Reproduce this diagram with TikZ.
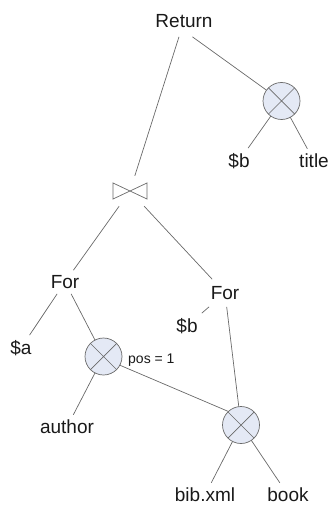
\documentclass[tikz,border=0pt]{standalone}
\usepackage{fontspec}
\setmainfont{Liberation Sans}
\definecolor{edgegray}{RGB}{105,105,105}
\definecolor{opfill}{RGB}{228,233,245}
\tikzset{
  conn/.style={draw=edgegray, line width=0.7pt},
  lbl/.style={inner sep=5pt, text=black!90, font=\fontsize{19}{22}\selectfont},
  poslbl/.style={inner sep=1pt, text=black!90, font=\fontsize{14}{16}\selectfont},
  selop/.style={circle, draw=edgegray, line width=0.7pt, fill=opfill, minimum size=37pt,
    inner sep=0pt, outer sep=0pt,
    path picture={\draw[edgegray, line width=0.7pt]
      (path picture bounding box.north west) -- (path picture bounding box.south east)
      (path picture bounding box.north east) -- (path picture bounding box.south west);}},
  joinop/.style={minimum width=48pt, minimum height=30pt, inner sep=0pt,
    path picture={\draw[edgegray, line width=0.7pt]
      ([shift={(7pt,-7pt)}]path picture bounding box.north west)
      -- ([shift={(-7pt,7pt)}]path picture bounding box.south east)
      -- ([shift={(-7pt,-7pt)}]path picture bounding box.north east)
      -- ([shift={(7pt,7pt)}]path picture bounding box.south west) -- cycle;}},
}
\begin{document}
\begin{tikzpicture}[x=1pt,y=-1pt]
  \useasboundingbox (0,0) rectangle (330,505);
  % top: return and its selection
  \node[lbl, inner sep=9pt] (ret) at (184,21) {Return};
  \node[selop] (selT) at (281.5,101) {};
  \node[lbl] (varBt) at (239,161) {\$b};
  \node[lbl] (title) at (314,161) {title};
  % join and the two for clauses
  \node[joinop] (join) at (130,191) {};
  \node[lbl] (forA) at (65,282) {For};
  \node[lbl, inner sep=7pt] (forB) at (225,293) {For};
  \node[lbl] (varA) at (21,348) {\$a};
  \node[lbl] (varBm) at (187,326) {\$b};
  % selections on the bottom
  \node[selop] (selA) at (103.5,356.5) {};
  \node[poslbl, anchor=west] (posLbl) at (127,360) {pos = 1};
  \node[lbl] (author) at (67,427) {author};
  \node[selop] (selB) at (241,425) {};
  \node[lbl] (bib) at (205,495) {bib.xml};
  \node[lbl] (book) at (288,495) {book};

  \draw[conn] (ret) -- (join);
  \draw[conn] (ret.-62) -- (selT);
  \draw[conn] (selT) -- (varBt);
  \draw[conn] (selT) -- (title);
  \draw[conn] (join) -- (forA);
  \draw[conn] (join) -- (forB);
  \draw[conn] (forA) -- (varA);
  \draw[conn] (forA) -- (selA);
  \draw[conn] (forB) -- (varBm);
  \draw[conn] (forB) -- (selB);
  \draw[conn] (selA) -- (author);
  \draw[conn] (selA.-28) -- (selB.133);
  \draw[conn] (selB) -- (bib);
  \draw[conn] (selB) -- (book);
\end{tikzpicture}
\end{document}
